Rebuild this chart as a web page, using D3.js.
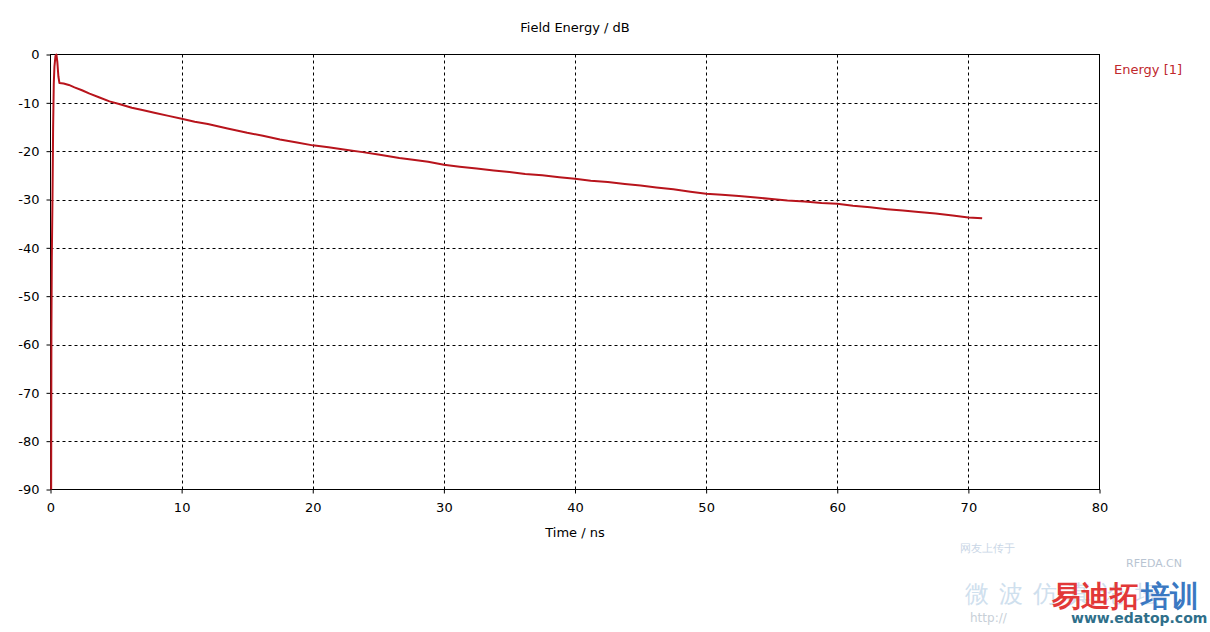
<!DOCTYPE html>
<html><head><meta charset="utf-8">
<script src="https://cdn.jsdelivr.net/npm/d3@7/dist/d3.min.js"></script>
<style>
html,body{margin:0;padding:0;background:#fff;}
svg{display:block;}
text{font-family:"DejaVu Sans",sans-serif;}
</style></head><body>
<svg id="c" width="1210" height="632"></svg>
<script>
// Data
const timeNs = [0.05,0.07,0.1,0.15,0.2,0.25,0.3,0.38,0.45,0.52,0.6,0.68,1.0,1.4,1.83,2.4,2.98,3.74,4.5,5.3,6.2,7.0,8.0,9.0,10,11,12,13.5,15,16.2,17.5,18.8,20,21.2,22.5,23.8,25,26.6,27.5,28.8,30,31.2,32.5,33.8,35,36.2,37.5,38.8,40,41.2,42.5,43.8,45,46.2,47.5,48.8,50,51.2,52.5,53.8,55,56.2,57.5,58.8,60,61.2,62.5,63.8,65,66.2,67.5,68.8,70,71.05];
const energyDb = [-90,-57,-42,-30,-15,-6,-2.5,-0.3,0,-1.5,-4.5,-5.9,-6.0,-6.3,-6.8,-7.4,-8.1,-8.9,-9.7,-10.3,-11.0,-11.5,-12.1,-12.7,-13.3,-13.9,-14.4,-15.3,-16.2,-16.8,-17.6,-18.2,-18.8,-19.2,-19.7,-20.2,-20.7,-21.4,-21.7,-22.2,-22.8,-23.2,-23.6,-24.0,-24.3,-24.7,-25.0,-25.4,-25.7,-26.1,-26.4,-26.8,-27.1,-27.5,-27.9,-28.4,-28.8,-29.0,-29.3,-29.6,-29.9,-30.2,-30.4,-30.7,-30.9,-31.3,-31.6,-32.0,-32.3,-32.6,-32.9,-33.3,-33.7,-33.9];
const xTicks = [0,10,20,30,40,50,60,70,80];
const yTicks = [0,-10,-20,-30,-40,-50,-60,-70,-80,-90];
const title = "Field Energy / dB";
const xLabel = "Time / ns";
const seriesName = "Energy [1]";

const svg = d3.select("#c");
const L = 50.5, R = 1099.5, T = 54.5, B = 489.5;
const x = d3.scaleLinear().domain([0,80]).range([L,R]);
const y = d3.scaleLinear().domain([-90,0]).range([B,T]);

// grid
const g = svg.append("g");
g.selectAll(".vg").data(xTicks.filter(d=>d>0&&d<80)).join("line")
  .attr("x1",d=>Math.round(x(d))+0.5).attr("x2",d=>Math.round(x(d))+0.5)
  .attr("y1",T).attr("y2",B).attr("stroke","#000").attr("stroke-width",1).attr("stroke-dasharray","3,3");
g.selectAll(".hg").data(yTicks.filter(d=>d<0&&d>-90)).join("line")
  .attr("y1",d=>Math.round(y(d))+0.5).attr("y2",d=>Math.round(y(d))+0.5)
  .attr("x1",L).attr("x2",R).attr("stroke","#000").attr("stroke-width",1).attr("stroke-dasharray","3,3");

// axes
const xAxis = d3.axisBottom(x).tickValues(xTicks).tickSize(4).tickPadding(9).tickFormat(d3.format("d"));
const yAxis = d3.axisLeft(y).tickValues(yTicks).tickSize(4).tickPadding(7).tickFormat(d=>d===0?"0":String(d));
const xa = svg.append("g").attr("transform",`translate(0,${B})`).call(xAxis);
const ya = svg.append("g").attr("transform",`translate(${L},0)`).call(yAxis);
[xa,ya].forEach(a=>{
  a.select(".domain").remove();
  a.selectAll("text").attr("font-size",13).attr("fill","#000").attr("font-family","DejaVu Sans, sans-serif");
  a.selectAll("line").attr("stroke","#000");
});

// frame
svg.append("rect").attr("x",L).attr("y",T).attr("width",R-L).attr("height",B-T)
  .attr("fill","none").attr("stroke","#000").attr("stroke-width",1);

// line
const data = timeNs.map((t,i)=>({t,v:energyDb[i]}));
svg.append("path").datum(data)
  .attr("d",d3.line().x(d=>x(d.t)).y(d=>y(d.v)))
  .attr("fill","none").attr("stroke","#b8141c").attr("stroke-width",2).attr("stroke-linejoin","round");

// texts
svg.append("text").attr("x",575).attr("y",32).attr("text-anchor","middle").attr("font-size",13).attr("fill","#000").text(title);
svg.append("text").attr("x",575).attr("y",537).attr("text-anchor","middle").attr("font-size",13).attr("fill","#000").text(xLabel);
svg.append("text").attr("x",1114).attr("y",74).attr("font-size",13).attr("fill","#c0282d").text(seriesName);

// watermark
const wm = svg.append("g");
wm.append("text").attr("x",965).attr("y",602).attr("font-size",24).attr("fill","#cfe0ee").attr("font-family","Noto Sans CJK SC").attr("letter-spacing",10).text("微波仿真论坛");
wm.append("text").attr("x",960).attr("y",552).attr("font-size",11).attr("fill","#c9d6e6").attr("font-family","Noto Sans CJK SC").text("网友上传于");
wm.append("text").attr("x",1126).attr("y",567).attr("font-size",11).attr("fill","#b8c4d2").attr("font-family","Liberation Sans").text("RFEDA.CN");
wm.append("text").attr("x",1052).attr("y",606).attr("font-size",29).attr("font-weight","bold").attr("fill","#e23838").attr("font-family","Noto Sans CJK SC").text("易迪拓");
wm.append("text").attr("x",1141).attr("y",606).attr("font-size",29).attr("font-weight","bold").attr("fill","#3a78c2").attr("font-family","Noto Sans CJK SC").text("培训");
wm.append("text").attr("x",970).attr("y",622).attr("font-size",12).attr("fill","#c8d0d8").attr("font-family","Liberation Mono").text("http://");
wm.append("text").attr("x",1071).attr("y",623).attr("font-size",14).attr("font-weight","bold").attr("fill","#2f6f8a").attr("font-family","Liberation Sans").text("www.edatop.com");
</script>
</body></html>
